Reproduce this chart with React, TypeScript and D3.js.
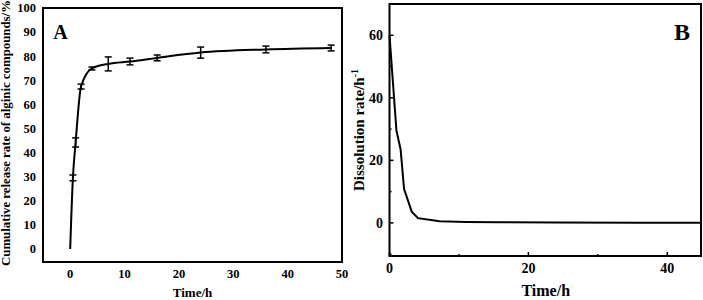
import React from "react";
import * as d3 from "d3";

// Panel A: cumulative release
const timesA = [0, 0.5, 1, 2, 4, 7, 11, 16, 24, 36, 48];
const releaseA = [0, 29.5, 44.2, 67.4, 74.9, 76.8, 77.8, 79.3, 81.5, 82.8, 83.4];
const errA = [0, 1.2, 1.9, 1.0, 0.6, 2.9, 1.4, 1.2, 2.3, 1.4, 1.2];
const ticksAX = [0, 10, 20, 30, 40, 50];
const ticksAY = [0, 10, 20, 30, 40, 50, 60, 70, 80, 90, 100];

// Panel B: dissolution rate
const timesB = [0, 1, 1.6, 2.1, 3.2, 4.1, 7.2, 11, 16, 24, 36, 45];
const rateB = [60, 29.5, 23.5, 10.8, 3.6, 1.5, 0.5, 0.3, 0.2, 0.12, 0.05, 0];
const ticksBX = [0, 20, 40];
const minorBX = [10, 30];
const ticksBY = [0, 20, 40, 60];
const minorBY = [-10, 10, 30, 50];

const FONT = "'Liberation Serif', 'Times New Roman', serif";

export default function App() {
  const xA = d3.scaleLinear().domain([-5, 50]).range([43, 342]);
  const yA = d3.scaleLinear().domain([-5.4, 100]).range([262, 8]);
  const xB = d3.scaleLinear().domain([0, 45]).range([389.5, 702]);
  const yB = d3.scaleLinear().domain([-10.6, 70]).range([256, 4]);

  const lineA = d3
    .line<number>()
    .x((_, i) => xA(timesA[i]))
    .y((d) => yA(d))
    .curve(d3.curveMonotoneX);
  const lineB = d3
    .line<number>()
    .x((_, i) => xB(timesB[i]))
    .y((d) => yB(d));

  const [ax0, ax1] = xA.range();
  const [ay0, ay1] = yA.range();
  const [bx0, bx1] = xB.range();
  const [by0, by1] = yB.range();

  return (
    <svg
      width={703}
      height={300}
      style={{ position: "absolute", left: 0, top: 0, background: "#fff" }}
      fontFamily={FONT}
      fontWeight="bold"
    >
      {/* Panel A */}
      <rect x={ax0} y={ay1} width={ax1 - ax0} height={ay0 - ay1} fill="none" stroke="#000" strokeWidth={2} />
      {ticksAY.map((t) => (
        <text key={"ay" + t} x={36} y={yA(t)} dy="0.35em" textAnchor="end" fontSize={12.5}>
          {t}
        </text>
      ))}
      {ticksAX.map((t) => (
        <text key={"ax" + t} x={xA(t)} y={278} textAnchor="middle" fontSize={12.5}>
          {t}
        </text>
      ))}
      <text x={(ax0 + ax1) / 2} y={297} textAnchor="middle" fontSize={13}>
        Time/h
      </text>
      <text
        transform={`translate(10,133) rotate(-90)`}
        textAnchor="middle"
        fontSize={12.5}
        textLength={266}
        lengthAdjust="spacingAndGlyphs"
      >
        Cumulative release rate of alginic compounds/%
      </text>
      <path d={lineA(releaseA) || ""} fill="none" stroke="#000" strokeWidth={2} />
      {timesA.map((t, i) =>
        errA[i] > 0 ? (
          <g key={"e" + i} stroke="#000" strokeWidth={1.5}>
            <line x1={xA(t)} x2={xA(t)} y1={yA(releaseA[i] - errA[i])} y2={yA(releaseA[i] + errA[i])} />
            <line x1={xA(t) - 3.5} x2={xA(t) + 3.5} y1={yA(releaseA[i] - errA[i])} y2={yA(releaseA[i] - errA[i])} />
            <line x1={xA(t) - 3.5} x2={xA(t) + 3.5} y1={yA(releaseA[i] + errA[i])} y2={yA(releaseA[i] + errA[i])} />
          </g>
        ) : null
      )}
      <text x={60.5} y={39} textAnchor="middle" fontSize={20}>
        A
      </text>

      {/* Panel B */}
      <rect x={bx0} y={by1} width={bx1 - bx0 - 1} height={by0 - by1} fill="none" stroke="#000" strokeWidth={2} />
      {ticksBX.map((t) => (
        <g key={"bx" + t}>
          <line x1={xB(t)} x2={xB(t)} y1={by0} y2={by0 - 4} stroke="#000" strokeWidth={1.5} />
          <text x={xB(t)} y={273} textAnchor="middle" fontSize={14}>
            {t}
          </text>
        </g>
      ))}
      {minorBX.map((t) => (
        <line key={"mbx" + t} x1={xB(t)} x2={xB(t)} y1={by0} y2={by0 - 2} stroke="#000" strokeWidth={1.5} />
      ))}
      {ticksBY.map((t) => (
        <g key={"by" + t}>
          <line x1={bx0} x2={bx0 + 4} y1={yB(t)} y2={yB(t)} stroke="#000" strokeWidth={1.5} />
          <text x={383} y={yB(t)} dy="0.35em" textAnchor="end" fontSize={14}>
            {t}
          </text>
        </g>
      ))}
      {minorBY.map((t) => (
        <line key={"mby" + t} x1={bx0} x2={bx0 + 2} y1={yB(t)} y2={yB(t)} stroke="#000" strokeWidth={1.5} />
      ))}
      <text x={(bx0 + bx1) / 2} y={296} textAnchor="middle" fontSize={16}>
        Time/h
      </text>
      <text transform={`translate(364,${(by0 + by1) / 2}) rotate(-90)`} textAnchor="middle" fontSize={15}>
        Dissolution rate/h
        <tspan dy={-6} fontSize={10}>
          -1
        </tspan>
      </text>
      <path d={lineB(rateB) || ""} fill="none" stroke="#000" strokeWidth={2} />
      <text x={682} y={40} textAnchor="middle" fontSize={24}>
        B
      </text>
    </svg>
  );
}
